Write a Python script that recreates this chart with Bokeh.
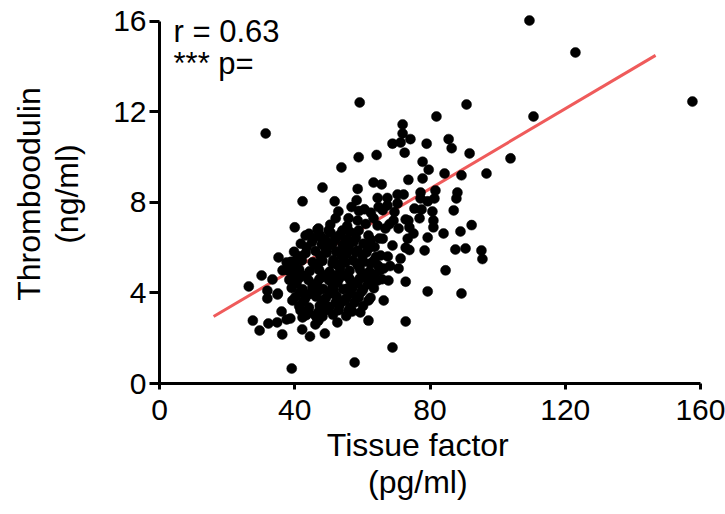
import math
from bokeh.plotting import figure
from bokeh.models import Range1d, Label, FixedTicker
from bokeh.embed import file_html
from bokeh.resources import INLINE

# ---- data (Tissue factor pg/ml, Thrombomodulin ng/ml) ----
sparse_tf = [109.4, 123.0, 157.6, 110.6, 90.8, 81.9, 103.8, 96.7, 91.7, 59.2, 31.4, 58.9, 53.8,
             48.2, 42.3, 51.8, 58.6, 40.0, 39.1, 57.7, 68.9, 72.8, 79.3, 89.3, 84.6, 72.8, 95.5,
             26.4, 30.2, 31.9, 27.6, 29.6, 32.2, 34.8, 36.3, 36.1, 35.0, 37.6, 42.2, 44.5, 48.9,
             46.1, 52.6, 43.2, 35.2, 37.6, 40.8, 33.4, 36.4, 34.9, 31.9, 42.3, 46.7, 41.1, 39.3,
             41.7, 46.1, 38.7]
sparse_tm = [16.04, 14.63, 12.46, 11.8, 12.33, 11.8, 9.95, 9.28, 10.17, 12.42, 11.05, 10.0, 9.55,
             8.66, 8.05, 8.05, 8.6, 6.9, 0.66, 0.93, 1.59, 2.74, 4.07, 3.98, 5.0, 4.5, 5.5,
             4.29, 4.77, 4.1, 2.78, 2.34, 2.65, 2.7, 2.17, 3.18, 3.98, 2.83, 2.39, 2.08, 2.21,
             2.61, 2.7, 6.54, 5.57, 5.35, 5.52, 4.6, 5.0, 3.93, 3.76, 2.92, 6.8, 5.57, 3.67,
             3.23, 3.0, 2.87]

mid_tf = [71.9, 71.9, 68.9, 71.3, 72.5, 64.2, 63.3, 65.7, 73.6, 58.3, 56.8, 60.6, 64.5, 67.4,
          70.4, 72.2, 64.8, 67.4, 70.4, 52.9, 52.1, 55.9, 58.6, 63.3, 69.2, 72.8, 47.0, 50.0,
          54.1, 58.9, 66.8, 70.7, 73.4, 48.2, 52.1, 55.9, 61.8, 66.0, 68.9, 72.8, 49.1, 53.5,
          58.0, 61.8, 65.4, 71.3, 47.0, 51.2, 55.0, 58.9, 62.4, 66.3, 70.7, 48.2, 52.1, 55.9,
          60.0, 64.5, 67.7, 47.0, 51.5, 55.6, 58.9, 61.8, 66.3, 48.2, 52.1, 55.9, 49.1, 59.4,
          61.8, 47.0, 73.9, 73.9]
mid_tm = [11.45, 11.05, 10.6, 10.65, 10.2, 10.1, 8.88, 8.8, 9.0, 8.1, 7.8, 7.7, 8.2, 8.2,
          8.35, 8.35, 7.8, 7.87, 7.96, 7.6, 7.3, 7.3, 7.2, 7.3, 7.2, 7.25, 6.85, 6.76,
          6.76, 6.76, 6.85, 6.85, 6.4, 6.4, 6.4, 6.3, 6.54, 6.4, 6.1, 6.0, 5.97, 5.8,
          5.8, 5.97, 5.66, 5.52, 5.3, 5.3, 5.35, 5.3, 5.3, 5.08, 5.08, 4.7, 4.77, 4.7,
          4.7, 4.55, 4.55, 4.1, 4.1, 4.2, 3.8, 3.67, 3.67, 3.67, 3.58, 3.23, 3.23, 3.14,
          2.78, 2.78, 6.9, 5.9]

right_tf = [74.2, 79.0, 85.5, 86.4, 77.8, 79.6, 84.3, 89.3, 77.8, 77.2, 81.6, 88.1, 87.8, 77.2,
            79.3, 81.3, 75.4, 77.5, 80.7, 87.0, 73.6, 76.9, 81.0, 81.0, 92.3, 75.1, 79.3, 84.0,
            89.0, 78.4, 87.5, 90.5, 95.2]
right_tm = [10.8, 10.6, 10.8, 10.4, 9.8, 9.45, 9.28, 9.2, 9.06, 8.44, 8.53, 8.44, 8.18, 8.18,
            8.05, 8.18, 7.73, 7.69, 7.6, 7.65, 7.2, 7.3, 7.2, 6.9, 7.0, 6.63, 6.45, 6.63,
            6.72, 5.88, 5.92, 5.97, 5.88]

core_tf = [44.2, 47.5, 50.6, 53.4, 56.3,
           41.8, 45.1, 48.0, 51.3, 54.2, 57.4, 60.3,
           39.8, 43.2, 46.1, 49.4, 52.2, 55.3, 58.6, 61.2,
           38.9, 42.1, 45.3, 48.2, 51.4, 54.3, 57.2, 60.4, 63.3,
           38.2, 41.3, 44.4, 47.2, 50.3, 53.4, 56.2, 59.3, 62.1, 65.2,
           38.4, 41.2, 44.1, 47.3, 50.2, 53.1, 56.4, 59.2, 62.3, 65.8,
           39.1, 42.3, 45.2, 48.4, 51.2, 54.3, 57.1, 60.2, 63.4,
           40.2, 43.1, 46.3, 49.2, 52.4, 55.2, 58.3, 62.4,
           41.3, 44.2, 47.4, 50.3, 53.2, 56.4, 60.2,
           43.4, 48.2, 51.3, 55.2]
core_tm = [6.62, 6.55, 6.66, 6.58, 6.7,
           6.18, 6.25, 6.15, 6.22, 6.12, 6.26, 6.18,
           5.82, 5.76, 5.86, 5.78, 5.84, 5.74, 5.88, 5.79,
           5.38, 5.44, 5.36, 5.42, 5.46, 5.34, 5.44, 5.37, 5.41,
           4.98, 5.04, 4.96, 5.02, 4.94, 5.06, 4.98, 5.03, 4.95, 5.01,
           4.58, 4.64, 4.56, 4.62, 4.55, 4.63, 4.57, 4.64, 4.58, 4.61,
           4.22, 4.16, 4.24, 4.18, 4.25, 4.17, 4.23, 4.15, 4.21,
           3.82, 3.76, 3.84, 3.78, 3.85, 3.77, 3.83, 3.79,
           3.42, 3.36, 3.44, 3.38, 3.45, 3.37, 3.43,
           3.02, 2.96, 3.04, 2.98]

core2_tf = [59.0, 62.5, 66.0, 69.5,
            50.5, 55.5, 61.0, 64.5, 68.0,
            45.6, 49.0, 52.0, 55.0, 58.1, 62.5, 65.0,
            43.5, 49.8, 56.0, 63.6,
            41.5, 47.6, 53.8, 60.0, 64.0, 67.5,
            40.0, 46.0, 52.6, 58.6, 64.6, 68.2,
            39.8, 42.8, 48.8, 54.8, 61.0, 63.5,
            40.5, 46.6, 52.6, 58.6, 61.6,
            41.5, 44.5, 50.5, 56.5, 59.6,
            42.6, 48.6, 54.6, 57.6,
            44.0, 47.0, 53.0, 57.0]
core2_tm = [7.62, 7.55, 7.66, 7.58,
            7.02, 6.96, 7.05, 6.98, 7.04,
            6.42, 6.36, 6.45, 6.38, 6.44, 6.35, 6.41,
            6.02, 6.04, 6.05, 6.03,
            5.62, 5.64, 5.65, 5.63, 5.59, 5.61,
            5.22, 5.24, 5.25, 5.23, 5.21, 5.19,
            4.82, 4.76, 4.78, 4.77, 4.79, 4.81,
            4.42, 4.44, 4.45, 4.43, 4.39,
            4.02, 3.96, 3.98, 3.97, 4.03,
            3.62, 3.64, 3.65, 3.57,
            3.22, 3.16, 3.24, 3.18]

fit_tf = [16.0, 146.7]
fit_tm = [2.96, 14.5]

x_ticks = [0, 40, 80, 120, 160]
y_ticks = [0, 4, 8, 12, 16]

tissue_factor = sparse_tf + mid_tf + right_tf + core_tf + core2_tf
thrombomodulin = sparse_tm + mid_tm + right_tm + core_tm + core2_tm

FONT = "Liberation Sans"
PAD = "\u00a0" * 5

p = figure(width=725, height=514, output_backend="svg", toolbar_location=None,
           x_range=Range1d(0, 165.9), y_range=Range1d(0, 16.75),
           min_border_left=159, min_border_right=5, min_border_top=4, min_border_bottom=131)
p.outline_line_color = None
p.grid.visible = False
p.background_fill_color = "white"
p.border_fill_color = "white"

p.line(fit_tf, fit_tm, line_color="#ef5b5b", line_width=3)
p.scatter(tissue_factor, thrombomodulin, size=10, fill_color="black", line_color="black", line_width=0.5)

for ax in (p.xaxis[0], p.yaxis[0]):
    ax.axis_line_width = 3
    ax.axis_line_color = "black"
    ax.major_tick_line_width = 3
    ax.major_tick_line_color = "black"
    ax.minor_tick_line_color = None
    ax.major_tick_in = 0
    ax.major_label_text_font = FONT
    ax.major_label_text_font_size = "30px"
    ax.major_label_text_color = "black"
    ax.axis_label_text_font = FONT
    ax.axis_label_text_font_size = "32px"
    ax.axis_label_text_font_style = "normal"
    ax.axis_label_text_color = "black"
    ax.axis_label_text_line_height = 1.05

p.xaxis.bounds = (0, 160)
p.xaxis.ticker = FixedTicker(ticks=x_ticks)
p.xaxis.major_tick_out = 6
p.xaxis.major_label_standoff = 10
p.xaxis.axis_label = "Tissue factor" + PAD + "\n(pg/ml)" + PAD
p.xaxis.axis_label_standoff = 4

p.yaxis.bounds = (0, 16)
p.yaxis.ticker = FixedTicker(ticks=y_ticks)
p.yaxis.major_tick_out = 10
p.yaxis.major_label_standoff = 3
p.yaxis.axis_label = "Thromboodulin\n(ng/ml)"
p.yaxis.axis_label_standoff = 25

def lab(x, y, text, size="31px"):
    p.add_layout(Label(x=x, y=y, text=text, text_font=FONT, text_font_size=size,
                       text_align="left", text_baseline="alphabetic", text_color="black"))

lab(4.14, 15.56, "r = 0.63")
lab(4.14, 14.14, "*** p=")

open("out.html", "w").write(file_html(p, INLINE))
